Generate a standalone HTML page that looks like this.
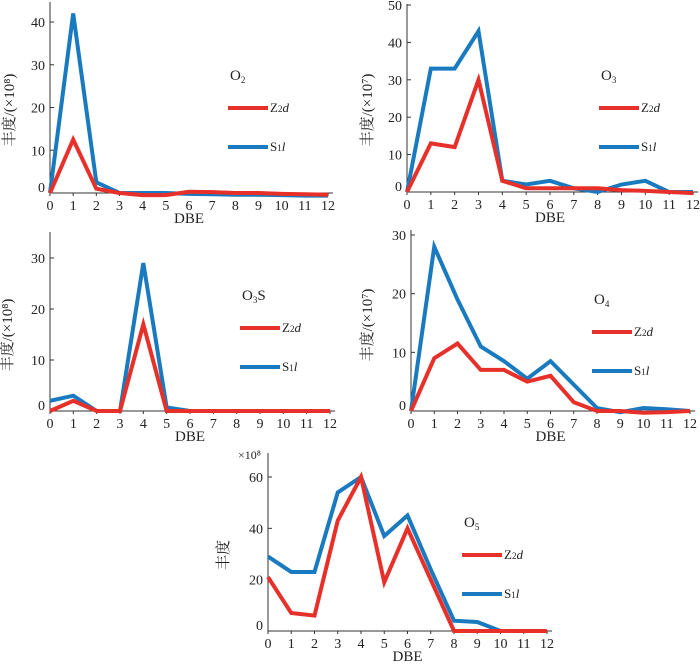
<!DOCTYPE html>
<html><head><meta charset="utf-8"><style>
body{margin:0;background:#fff;}
svg text{font-family:"Liberation Serif","Noto Serif CJK SC",serif;fill:#222;}
</style></head><body>
<svg id="c" width="700" height="663" viewBox="0 0 700 663" xmlns="http://www.w3.org/2000/svg"></svg>
<script>
const dbe = [0,1,2,3,4,5,6,7,8,9,10,11,12];
const o2Z = [0,12.5,1,0,-0.5,-0.5,0.3,0.2,0,0,-0.2,-0.3,-0.4];
const o2S = [0,42,2.5,0,0,0,-0.2,-0.3,-0.4,-0.4,-0.5,-0.6,-0.6];
const o3Z = [0,13,12,30,3,1,1,1,1,0.5,0.3,0,-0.3];
const o3S = [0,33,33,43,3,2,3,1,0,2,3,0,0];
const o3sZ = [0,2,0,0,17,0,0,0,0,0,0,0,0];
const o3sS = [2,3,0,0,29,0.7,0,0,0,0,0,0,0];
const o4Z = [0,9,11.5,7,7,5,6,1.5,0,0,-0.3,-0.2,0];
const o4S = [0,28,19,11,8.5,5.5,8.5,4.5,0.5,-0.2,0.5,0.3,0];
const o5Z = [21,7,6,43,60,19,40,20,0,0,0,0,0];
const o5S = [29,23,23,54,60,37,45,24,4,3.5,0,0,0];
const ticks1 = [0,10,20,30,40];
const ticks2 = [0,10,20,30,40,50];
const ticks3 = [0,10,20,30];
const ticks4 = [0,10,20,30];
const ticks5 = [0,20,40,60];

const NS="http://www.w3.org/2000/svg";
const svg=document.getElementById('c');
function mk(tag,attrs,parent){const e=document.createElementNS(NS,tag);for(const k in attrs)e.setAttribute(k,attrs[k]);(parent||svg).appendChild(e);return e;}

function panel(p){
  const g=mk('g',{});
  
  
  const xs=v=>p.x0+(p.x1-p.x0)*v/12;
  const ys=v=>p.y0-(p.y0-p.yv)*v/p.vref;
  const ya=mk('line',{x1:p.x0,y1:p.ytop,x2:p.x0,y2:p.y0,stroke:'#333','stroke-width':1},g);
  
  
  const xa=mk('line',{x1:p.x0,y1:p.y0,x2:p.x1+5,y2:p.y0,stroke:'#333','stroke-width':1},g);
  
  
  p.ticks.forEach(t=>{
    mk('line',{x1:p.x0,y1:ys(t),x2:p.x0+4,y2:ys(t),stroke:'#333'},g);
    const tx=mk('text',{x:p.x0-5,y:ys(t)+5+(t===0?-6:0),'text-anchor':'end','font-size':14},g);
    tx.textContent=t;
    
    
  });
  dbe.forEach(d=>{
    mk('line',{x1:xs(d),y1:p.y0,x2:xs(d),y2:p.y0+3,stroke:'#333'},g);
    const tx=mk('text',{x:xs(d),y:p.y0+17,'text-anchor':'middle','font-size':14},g);
    tx.textContent=d;
    
    
  });
  const xt=mk('text',{x:(p.x0+p.x1)/2,y:p.y0+30,'text-anchor':'middle','font-size':15},g);
  xt.textContent='DBE';
  
  
  const yt=mk('text',{x:0,y:0,'text-anchor':'middle','font-size':15,fill:'#555',transform:`translate(${p.ylx},${p.yly}) rotate(-90)`},g);
  yt.textContent=p.ylabel;
  
  
  if(p.exp){const e=mk('text',{x:p.x0-30,y:p.ytop+6,'font-size':12},g);e.textContent=p.exp;
    
    }
  [[p.s,'#1a7abf','series-s1l'],[p.z,'#e8302a','series-z2d']].forEach(([arr,col,nm])=>{
    const pts=arr.map((v,i)=>xs(dbe[i])+','+ys(v)).join(' ');
    const l=mk('polyline',{points:pts,fill:'none',stroke:col,'stroke-width':4,'stroke-linejoin':'miter'},g);
    
    
  });
  const t=mk('text',{x:p.lx+2,y:p.ly,'font-size':15},g);
  t.innerHTML=p.title;
  
  
  [[p.ly+28,'#e8302a','Z<tspan font-size="9">2</tspan><tspan font-style="italic">d</tspan>','legend-z2d'],
   [p.ly+67,'#1a7abf','S<tspan font-size="9">1</tspan><tspan font-style="italic">l</tspan>','legend-s1l']].forEach(([y,c,txt,nm])=>{
    const lg=mk('g',{},g);
    
    
    mk('line',{x1:p.lx,y1:y,x2:p.lx+40,y2:y,stroke:c,'stroke-width':4},lg);
    const tt=mk('text',{x:p.lx+42,y:y+4,'font-size':13},lg);tt.innerHTML=txt;
  });
}
panel({name:'panel-o2',x0:50,x1:328,y0:193,yv:22,vref:40,ytop:2,ticks:ticks1,z:o2Z,s:o2S,ylabel:'丰度/(×10⁸)',ylx:14,yly:110,title:'O<tspan font-size="9" dy="3">2</tspan>',lx:228,ly:80});
panel({name:'panel-o3',x0:407,x1:693,y0:192,yv:5,vref:50,ytop:4,ticks:ticks2,z:o3Z,s:o3S,ylabel:'丰度/(×10⁷)',ylx:372,yly:110,title:'O<tspan font-size="9" dy="3">3</tspan>',lx:599,ly:80});
panel({name:'panel-o3s',x0:50,x1:330,y0:411,yv:258,vref:30,ytop:232,ticks:ticks3,z:o3sZ,s:o3sS,ylabel:'丰度/(×10⁸)',ylx:12,yly:335,title:'O<tspan font-size="9" dy="3">3</tspan><tspan dy="-3">S</tspan>',lx:240,ly:300});
panel({name:'panel-o4',x0:411,x1:690,y0:411,yv:235,vref:30,ytop:230,ticks:ticks4,z:o4Z,s:o4S,ylabel:'丰度/(×10⁷)',ylx:372,yly:325,title:'O<tspan font-size="9" dy="3">4</tspan>',lx:592,ly:304});
panel({name:'panel-o5',x0:268,x1:547,y0:631,yv:477,vref:60,ytop:453,ticks:ticks5,z:o5Z,s:o5S,ylabel:'丰度',ylx:228,yly:555,exp:'×10⁸',title:'O<tspan font-size="9" dy="3">5</tspan>',lx:462,ly:527});
</script>
</body></html>
